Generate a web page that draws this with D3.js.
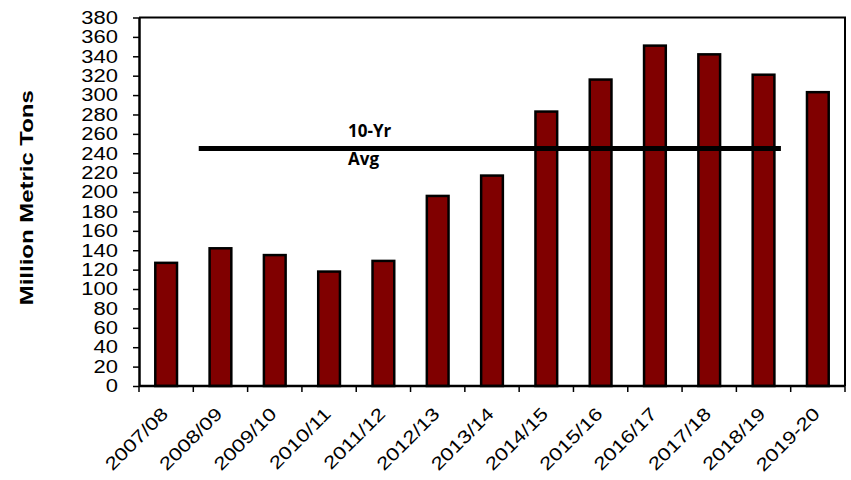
<!DOCTYPE html>
<html>
<head>
<meta charset="utf-8">
<script src="https://cdn.jsdelivr.net/npm/d3@7"></script>
<style>
  html, body { margin: 0; padding: 0; background: #fff; }
  svg { display: block; }
</style>
</head>
<body>
<svg id="chart" width="851" height="480"></svg>
<script>
// Marketing years and production (million metric tons)
const categories = ["2007/08","2008/09","2009/10","2010/11","2011/12","2012/13","2013/14",
                    "2014/15","2015/16","2016/17","2017/18","2018/19","2019-20"];
const production = [127, 142, 135, 118, 129, 196, 217, 283, 316, 351, 342, 321, 303];
const tenYearAvg = 245;
const avgLabel = ["10-Yr", "Avg"];
const yTicks = d3.range(0, 381, 20);
const yTitle = "Million Metric Tons";

const svg = d3.select("#chart");
const plot = { left: 139, right: 845, top: 17.5, bottom: 386 };

const x = d3.scaleBand()
  .domain(categories)
  .range([plot.left, plot.right])
  .paddingInner(0.6)
  .paddingOuter(0.3);
const step = x.step();
const bandStart = c => x(c) - step * 0.3;
const bandCenter = c => x(c) + x.bandwidth() / 2;

const y = d3.scaleLinear().domain([0, 380]).range([plot.bottom, plot.top]);

const stretch = (sel, k) => sel.each(function () {
  const w = this.getComputedTextLength();
  d3.select(this).attr("textLength", w * k).attr("lengthAdjust", "spacingAndGlyphs");
});

// Frame: top and right edges
svg.append("path")
  .attr("d", `M${plot.left},${plot.top}H${plot.right}V${plot.bottom}`)
  .attr("fill", "none").attr("stroke", "#000").attr("stroke-width", 2);

// Bars
svg.append("g").selectAll("rect")
  .data(production)
  .join("rect")
  .attr("x", (d, i) => x(categories[i]))
  .attr("width", x.bandwidth())
  .attr("y", d => y(d))
  .attr("height", d => y(0) - y(d))
  .attr("fill", "#800000")
  .attr("stroke", "#000")
  .attr("stroke-width", 2.5);

// Y axis
const yAxis = svg.append("g")
  .attr("transform", `translate(${plot.left},0)`)
  .call(d3.axisLeft(y).tickValues(yTicks).tickSize(6).tickSizeOuter(0).tickPadding(15));
yAxis.select(".domain").attr("stroke-width", 2.5);
yAxis.selectAll(".tick line").attr("stroke-width", 1.5);
yAxis.selectAll(".tick text")
  .attr("font-family", "'Liberation Sans', Arial, sans-serif")
  .attr("font-size", 18)
  .attr("fill", "#000")
  .call(stretch, 1.22);

// X axis baseline and ticks at band boundaries
const boundaries = categories.map(bandStart).concat([plot.right]);
svg.append("line")
  .attr("x1", plot.left).attr("x2", plot.right)
  .attr("y1", plot.bottom).attr("y2", plot.bottom)
  .attr("stroke", "#000").attr("stroke-width", 2.5);
svg.append("g").selectAll("line")
  .data(boundaries)
  .join("line")
  .attr("x1", d => d).attr("x2", d => d)
  .attr("y1", plot.bottom).attr("y2", plot.bottom + 6)
  .attr("stroke", "#000").attr("stroke-width", 1.5);

// X labels, rotated
svg.append("g").selectAll("text")
  .data(categories)
  .join("text")
  .attr("transform", d => `translate(${bandCenter(d) + 3},${plot.bottom + 29}) rotate(-45)`)
  .attr("text-anchor", "end")
  .attr("font-family", "'Liberation Sans', Arial, sans-serif")
  .attr("font-size", 18)
  .attr("fill", "#000")
  .text(d => d)
  .call(stretch, 1.23);

// Y axis title
svg.append("text")
  .attr("transform", `translate(33,${(plot.top + plot.bottom) / 2 - 4}) rotate(-90)`)
  .attr("text-anchor", "middle")
  .attr("font-family", "'Liberation Sans', Arial, sans-serif")
  .attr("font-weight", "bold")
  .attr("font-size", 18)
  .attr("fill", "#000")
  .text(yTitle)
  .attr("textLength", 215)
  .attr("lengthAdjust", "spacingAndGlyphs");

// 10-year average line
const avgX1 = bandStart("2008/09") + step * 0.1;
const avgX2 = bandStart("2019-20") - step * 0.18;
svg.append("line")
  .attr("x1", avgX1).attr("x2", avgX2)
  .attr("y1", y(tenYearAvg)).attr("y2", y(tenYearAvg))
  .attr("stroke", "#000").attr("stroke-width", 5);

const labelX = bandStart("2011/12") - step * 0.15;
svg.append("g").selectAll("text")
  .data(avgLabel)
  .join("text")
  .attr("x", labelX)
  .attr("y", (d, i) => y(tenYearAvg) + (i === 0 ? -11.5 : 17))
  .attr("font-family", "'Open Sans', sans-serif")
  .attr("font-weight", "bold")
  .attr("font-size", 17)
  .attr("fill", "#000")
  .text(d => d);
</script>
</body>
</html>
